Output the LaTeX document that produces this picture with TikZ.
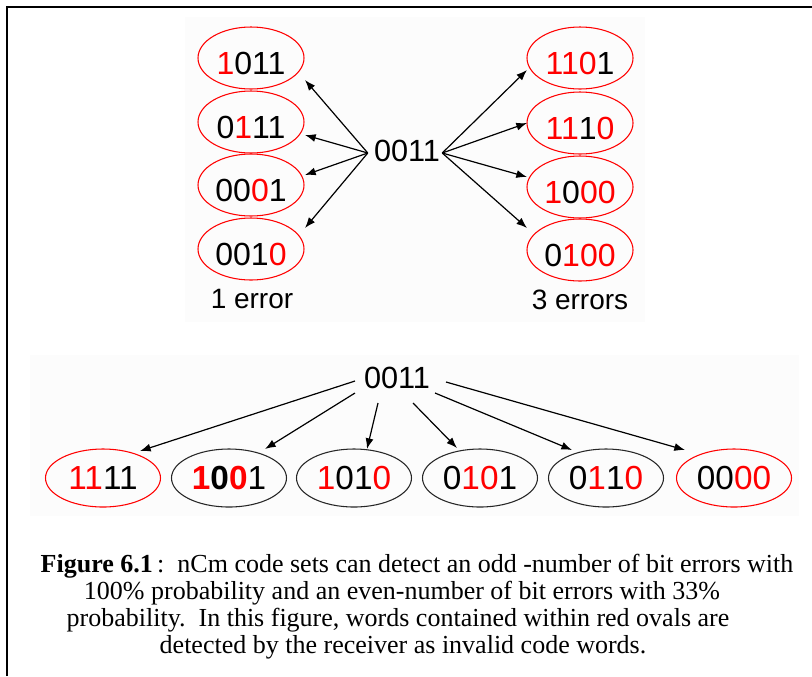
\documentclass[tikz,border=0pt]{standalone}
\usepackage{fontspec}
\setmainfont{Liberation Serif}
\newfontfamily\diagfont{Liberation Sans}
\usetikzlibrary{shapes.geometric,arrows.meta,calc}

% a red digit
\newcommand{\rd}[1]{\textcolor{red}{#1}}

\begin{document}
\begin{tikzpicture}[
  x=0.75pt, y=-0.75pt,
  word/.style={ellipse, draw=red, line width=0.8pt, inner sep=0pt,
    minimum width=79.5pt, minimum height=46.5pt,
    font=\diagfont\fontsize{24}{24}\selectfont,
    text height=24.7pt, text depth=0pt},
  lowword/.style={ellipse, line width=0.8pt, inner sep=0pt,
    minimum width=86.25pt, minimum height=43.5pt,
    font=\diagfont\fontsize{25}{25}\selectfont},
  okword/.style={lowword, draw=black!85},
  badword/.style={lowword, draw=red},
  source/.style={inner sep=0pt, font=\diagfont\fontsize{23}{23}\selectfont},
  tag/.style={anchor=base, inner sep=0pt, font=\diagfont\fontsize{21}{21}\selectfont},
  flip/.style={line width=0.9pt, -{Latex[length=8pt,width=6pt]}},
  capline/.style={anchor=base, inner sep=0pt, font=\fontsize{19.5}{20}\selectfont},
  panel/.style={fill=black!1, draw=none}
]
\useasboundingbox (0,0) rectangle (812,676);
\fill[white] (0,0) rectangle (812,676);

% frame
\draw[line width=1.6pt] (7,676) -- (7,7) -- (812,7);

% faint panels behind the two diagrams
\fill[panel] (185,17) rectangle (645,322);
\fill[panel] (30,355) rectangle (799,516);

% ---- single and triple errors ----
\node[source] (src) at (407,151) {0011};

\node[word] (a1) at (251,58)  {\rd{1}011};
\node[word] (a2) at (251,122) {0\rd{1}11};
\node[word] (a3) at (251,185) {00\rd{0}1};
\node[word] (a4) at (251,249) {001\rd{0}};
\node[tag] (one) at (252,308) {1 error};

\node[word] (b1) at (580,58)  {\rd{110}1};
\node[word] (b2) at (580,123) {\rd{11}1\rd{0}};
\node[word] (b3) at (580,187) {\rd{1}0\rd{00}};
\node[word] (b4) at (580,250) {0\rd{100}};
\node[tag] (three) at (580,309) {3 errors};

\coordinate (sl) at ($(src.west)+(-6,2)$);
\coordinate (sr) at ($(src.east)+(2,2)$);
\draw[flip] (sl) -- ($(a1)+(54,22)$);
\draw[flip] (sl) -- ($(a2)+(54,13)$);
\draw[flip] (sl) -- ($(a3)+(54,-10)$);
\draw[flip] (sl) -- ($(a4)+(54,-21)$);
\draw[flip] (sr) -- ($(b1)+(-53,12)$);
\draw[flip] (sr) -- ($(b2)+(-53,0)$);
\draw[flip] (sr) -- ($(b3)+(-53,-10)$);
\draw[flip] (sr) -- ($(b4)+(-53,-22)$);

% ---- double errors ----
\node[source] (low) at (397,378) {0011};

\node[badword] (c1) at (103,478) {\rd{11}11};
\node[okword]  (c2) at (229,478) {\textbf{\rd{1}0\rd{0}}1};
\node[okword]  (c3) at (354,478) {\rd{1}01\rd{0}};
\node[okword]  (c4) at (480,478) {0\rd{10}1};
\node[okword]  (c5) at (606,478) {0\rd{1}1\rd{0}};
\node[badword] (c6) at (734,478) {00\rd{00}};

\draw[flip] ($(low)+(-42,3)$)  -- ($(c1)+(37,-27)$);
\draw[flip] ($(low)+(-42,15)$) -- ($(c2)+(36,-29)$);
\draw[flip] ($(low)+(-19,25)$) -- ($(c3)+(13,-29)$);
\draw[flip] ($(low)+(16,25)$)  -- ($(c4)+(-23,-30)$);
\draw[flip] ($(low)+(38,15)$)  -- ($(c5)+(-34,-28)$);
\draw[flip] ($(low)+(49,4)$)   -- ($(c6)+(-49,-28)$);

% ---- caption ----
\node[capline] (cap1) at (417,572) {\textbf{Figure 6.1}\,:~~nCm code sets can detect an odd -number of bit errors with};
\node[capline] (cap2) at (402,599) {100\% probability and an even-number of bit errors with 33\%};
\node[capline] (cap3) at (398,626) {probability.~~In this figure, words contained within red ovals are};
\node[capline] (cap4) at (403,653) {detected by the receiver as invalid code words.};
\end{tikzpicture}
\end{document}
